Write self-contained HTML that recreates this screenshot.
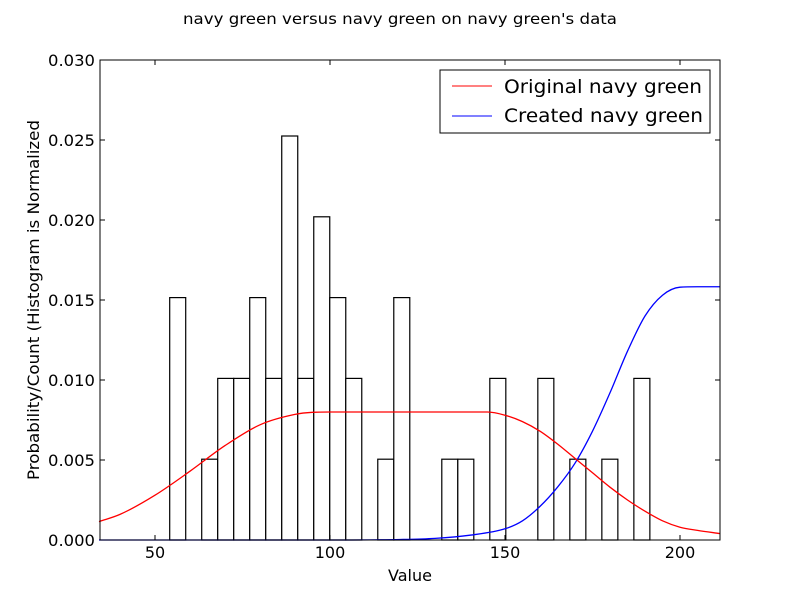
<!DOCTYPE html>
<html><head><meta charset="utf-8"><style>
body{margin:0;background:#fff;}
svg text{font-family:"DejaVu Sans","Liberation Sans",sans-serif;}
</style></head><body>
<svg id="chart" width="800" height="600" xmlns="http://www.w3.org/2000/svg">
<rect width="800" height="600" fill="#fff"/>
<text x="400" y="24" text-anchor="middle" font-size="15" textLength="434" lengthAdjust="spacingAndGlyphs">navy green versus navy green on navy green's data</text>
<g id="bars"></g>
<g id="lines"></g>
<rect x="100" y="60" width="620" height="480" fill="none" stroke="#000" stroke-width="1"/>
<g id="axes"></g>
<text x="410" y="581" text-anchor="middle" font-size="16">Value</text>
<text transform="translate(39,300) rotate(-90)" text-anchor="middle" font-size="16" textLength="360" lengthAdjust="spacingAndGlyphs">Probability/Count (Histogram is Normalized</text>
<g>
<rect x="440" y="70" width="270" height="63" fill="#fff" stroke="#000"/>
<g>
<line x1="452" y1="86" x2="492" y2="86" stroke="red"/>
<text x="504" y="93" font-size="19" textLength="198" lengthAdjust="spacingAndGlyphs">Original navy green</text></g>
<g>
<line x1="452" y1="116" x2="492" y2="116" stroke="blue"/>
<text x="504" y="122" font-size="19" textLength="199" lengthAdjust="spacingAndGlyphs">Created navy green</text></g>
</g>
</svg>
<script>
const binStart = 54.2;
const binWidth = 4.573;
const binCounts = [3,0,1,2,2,3,2,5,2,4,3,2,0,1,3,0,0,1,1,0,2,0,0,2,0,1,0,1,0,2];
const densityPerCount = 0.00505;
const redX = [34,40,50,60,70,80,90,95,100,145,150,155,160,165,170,175,180,185,190,195,200,205,211.5];
const redY = [0.00115,0.0016,0.0028,0.0043,0.0059,0.0072,0.00785,0.00798,0.008,0.008,0.0078,0.0074,0.0068,0.006,0.0051,0.0042,0.0033,0.0025,0.0018,0.0012,0.0008,0.0006,0.0004];
const blueX = [34,100,120,130,140,150,155,160,165,170,175,180,185,190,195,200,205,211.5];
const blueY = [0,0,0.00003,0.0001,0.0003,0.0007,0.0012,0.0021,0.0033,0.0048,0.0068,0.0092,0.0118,0.014,0.0153,0.0158,0.01583,0.01583];
const xTicks = [50,100,150,200];
const yTicks = [0,0.005,0.010,0.015,0.020,0.025,0.030];
const yTickLabels = ["0.000","0.005","0.010","0.015","0.020","0.025","0.030"];
const NS="http://www.w3.org/2000/svg";
const xs=v=>155+(v-50)*3.5;
const ys=v=>540-v*16000;
function mk(t,a,p){const e=document.createElementNS(NS,t);for(const k in a)e.setAttribute(k,a[k]);p.appendChild(e);return e;}
const bars=document.getElementById('bars');
binCounts.forEach((c,i)=>{if(!c)return;
 const x0=xs(binStart+i*binWidth),x1=xs(binStart+(i+1)*binWidth),y=ys(c*densityPerCount);
 const r=mk('rect',{x:x0,y:y,width:x1-x0,height:540-y,fill:'#fff',stroke:'#000','stroke-width':1.2},bars);
 
 });
function monoPath(X,Y){
 const P=X.map((x,i)=>[xs(x),ys(Y[i])]);const n=P.length;
 const d=[],m=[];
 for(let i=0;i<n-1;i++)d.push((P[i+1][1]-P[i][1])/(P[i+1][0]-P[i][0]));
 m[0]=d[0];m[n-1]=d[n-2];
 for(let i=1;i<n-1;i++){m[i]=(d[i-1]*d[i]<=0)?0:(d[i-1]+d[i])/2;}
 for(let i=0;i<n-1;i++){if(d[i]===0){m[i]=0;m[i+1]=0;continue;}
  const a=m[i]/d[i],b=m[i+1]/d[i],s=a*a+b*b;if(s>9){const t=3/Math.sqrt(s);m[i]=t*a*d[i];m[i+1]=t*b*d[i];}}
 let s='M'+P[0][0]+','+P[0][1];
 for(let i=0;i<n-1;i++){const h=(P[i+1][0]-P[i][0])/3;
  s+=' C'+(P[i][0]+h)+','+(P[i][1]+m[i]*h)+' '+(P[i+1][0]-h)+','+(P[i+1][1]-m[i+1]*h)+' '+P[i+1][0]+','+P[i+1][1];}
 return s;}
const lines=document.getElementById('lines');
function line(X,Y,col,name){const p=mk('path',{d:monoPath(X,Y),fill:'none',stroke:col,'stroke-width':1.3},lines);
 
 }
line(blueX,blueY,'blue','created-curve');
line(redX,redY,'red','original-curve');
const axes=document.getElementById('axes');
xTicks.forEach(t=>{const x=xs(t);
 mk('line',{x1:x,y1:540,x2:x,y2:535,stroke:'#000'},axes);mk('line',{x1:x,y1:60,x2:x,y2:65,stroke:'#000'},axes);
 const tx=mk('text',{x:x,y:558,'text-anchor':'middle','font-size':16},axes);tx.textContent=t;
 
 });
yTicks.forEach((t,i)=>{const y=ys(t);
 mk('line',{x1:100,y1:y,x2:105,y2:y,stroke:'#000'},axes);mk('line',{x1:720,y1:y,x2:715,y2:y,stroke:'#000'},axes);
 const tx=mk('text',{x:95,y:y+6,'text-anchor':'end','font-size':16,textLength:47,lengthAdjust:'spacingAndGlyphs'},axes);tx.textContent=yTickLabels[i];
 
 });
</script>
</body></html>
